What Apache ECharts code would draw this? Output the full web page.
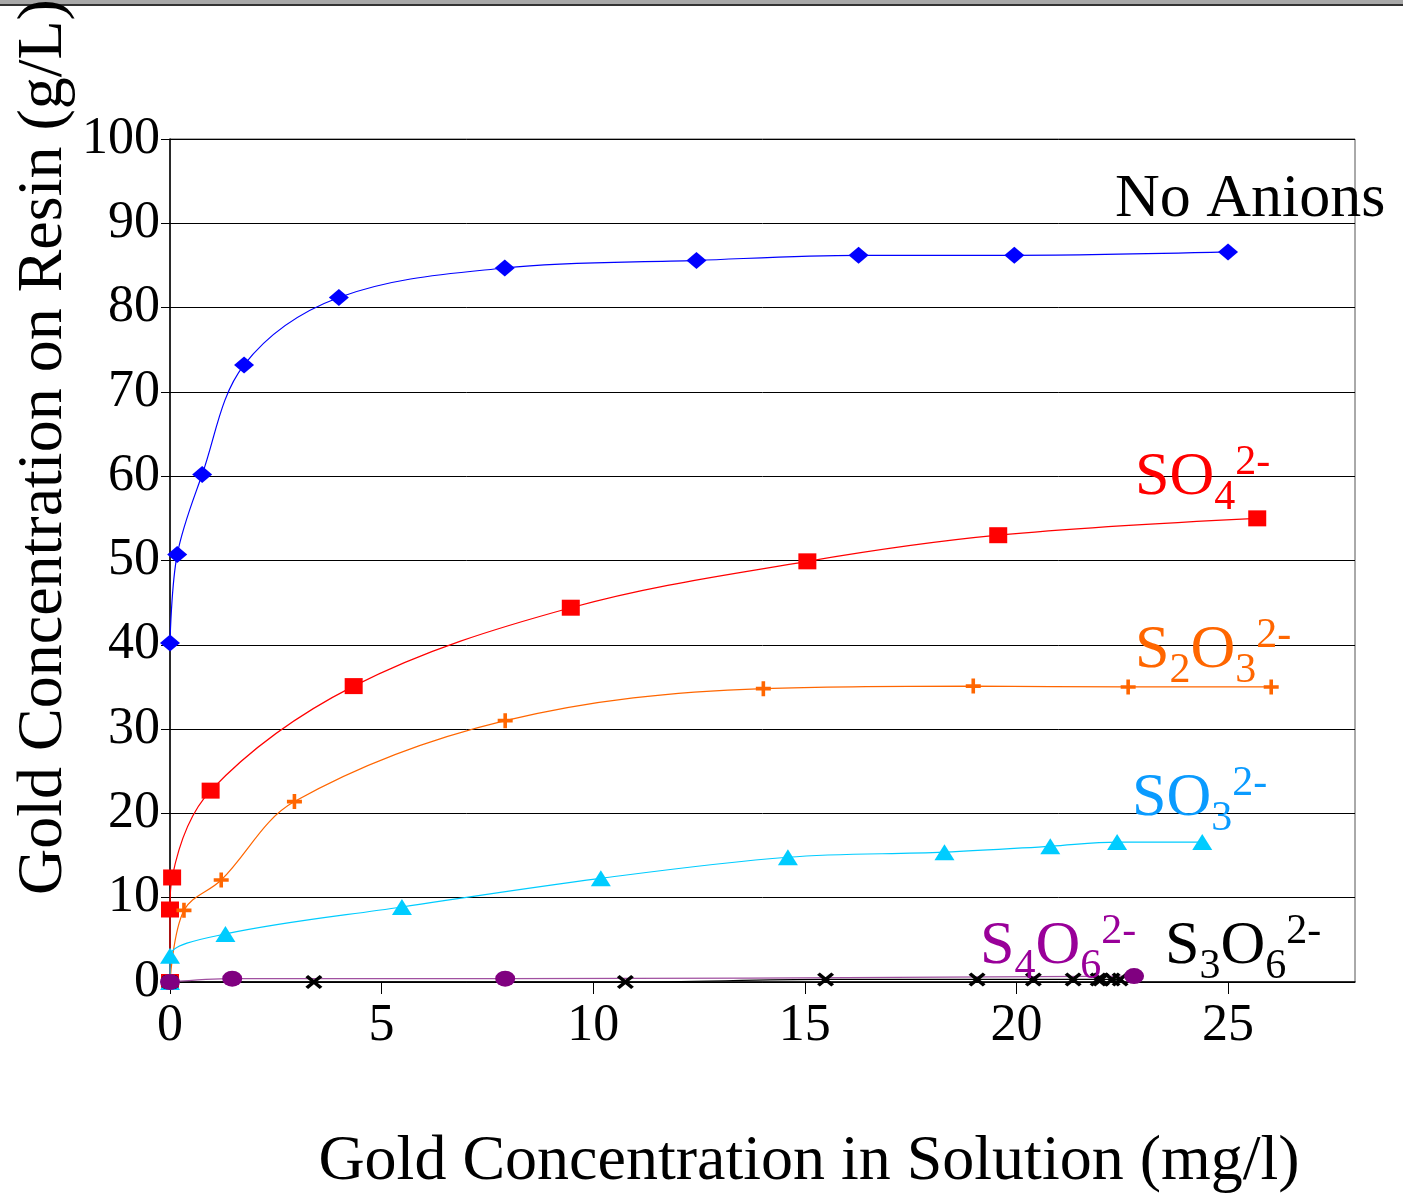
<!DOCTYPE html>
<html>
<head>
<meta charset="utf-8">
<script src="https://cdn.jsdelivr.net/npm/echarts@6/dist/echarts.min.js"></script>
<style>
html,body{margin:0;padding:0;background:#fff;}
#chart{width:1403px;height:1195px;}
</style>
</head>
<body>
<div id="chart"></div>
<script>
// ---- data ----
const xTicks = [0, 5, 10, 15, 20, 25];
const yTicks = [0, 10, 20, 30, 40, 50, 60, 70, 80, 90, 100];

const noAnionsX = [0, 0.17, 0.76, 1.75, 3.99, 7.91, 12.44, 16.27, 19.95, 25.0];
const noAnionsY = [40.2, 50.7, 60.2, 73.2, 81.2, 84.7, 85.6, 86.2, 86.2, 86.6];

const so4X = [0, 0, 0.05, 0.96, 4.34, 9.47, 15.06, 19.57, 25.69];
const so4Y = [0, 8.6, 12.4, 22.7, 35.1, 44.4, 49.9, 53.0, 55.0];

const s2o3X = [0, 0.33, 1.21, 2.94, 7.92, 14.02, 18.98, 22.64, 26.02];
const s2o3Y = [0, 8.5, 12.1, 21.4, 31.0, 34.8, 35.1, 35.0, 35.0];

const so3X = [0, 0, 1.31, 5.48, 10.18, 14.6, 18.3, 20.8, 22.38, 24.39];
const so3Y = [0, 3.1, 5.7, 8.9, 12.3, 14.8, 15.4, 16.1, 16.6, 16.6];

const s3o6X = [0, 3.4, 10.76, 15.49, 19.07, 20.4, 21.34, 21.93, 22.0, 22.26, 22.45];
const s3o6Y = [0, 0, 0, 0.3, 0.3, 0.3, 0.3, 0.3, 0.3, 0.3, 0.3];

const s4o6X = [0, 1.47, 7.92, 22.78];
const s4o6Y = [0, 0.4, 0.4, 0.7];

const xTitle = 'Gold Concentration in Solution (mg/l)';
const yTitle = 'Gold Concentration on Resin (g/L)';

// series labels: [pieces], piece kind n = normal, b = subscript, p = superscript
const labelNoAnions = [['No Anions', 'n']];
const labelSO4 = [['SO', 'n'], ['4', 'b'], ['2-', 'p']];
const labelS2O3 = [['S', 'n'], ['2', 'b'], ['O', 'n'], ['3', 'b'], ['2-', 'p']];
const labelSO3 = [['SO', 'n'], ['3', 'b'], ['2-', 'p']];
const labelS4O6 = [['S', 'n'], ['4', 'b'], ['O', 'n'], ['6', 'b'], ['2-', 'p']];
const labelS3O6 = [['S', 'n'], ['3', 'b'], ['O', 'n'], ['6', 'b'], ['2-', 'p']];

// ---- build ----
const FONT = '"Liberation Serif", "Times New Roman", serif';
const pairs = (xs, ys) => xs.map((x, i) => [x, ys[i]]);

const PLUS = 'path://M3.8,0H6.2V3.8H10V6.2H6.2V10H3.8V6.2H0V3.8H3.8Z';
const CROSS = 'path://M0,1.6L1.6,0L5,3.4L8.4,0L10,1.6L6.6,5L10,8.4L8.4,10L5,6.6L1.6,10L0,8.4L3.4,5Z';

function lineSeries(name, data, color, symbol, size, lineColor) {
  return {
    name, type: 'line', data, smooth: 0.35, showAllSymbol: true,
    symbol, symbolSize: size,
    lineStyle: { color: lineColor || color, width: 1.2 },
    itemStyle: { color: color },
    emphasis: { disabled: true },
    z: 3
  };
}

const mctx = document.createElement('canvas').getContext('2d');
function measure(text, size) {
  mctx.font = size + 'px ' + FONT;
  return mctx.measureText(text).width;
}
const MAIN = 62, SMALL = 42, MID = 0.255;
function labelGraphics(parts, x0, base, color) {
  const out = [];
  let x = x0;
  parts.forEach(([t, k]) => {
    const size = k === 'n' ? MAIN : SMALL;
    const b = k === 'n' ? base : (k === 'b' ? base + 15 : base - 20);
    out.push({
      type: 'text', silent: true, z: 10,
      style: {
        text: t, x: x, y: b - MID * size, fill: color,
        font: size + 'px ' + FONT, textAlign: 'left', textVerticalAlign: 'middle'
      }
    });
    x += measure(t, size);
  });
  return out;
}

const graphics = [
  { type: 'rect', shape: { x: 0, y: 0, width: 1403, height: 4 }, style: { fill: '#a8a8a8' }, silent: true },
  { type: 'rect', shape: { x: 0, y: 4, width: 1403, height: 2 }, style: { fill: '#333' }, silent: true },
  {
    type: 'text', silent: true, x: 44, y: 447, rotation: Math.PI / 2,
    style: { text: yTitle, x: 0, y: 0, fill: '#000', font: '64px ' + FONT, textAlign: 'center', textVerticalAlign: 'middle' }
  },
  {
    type: 'text', silent: true,
    style: { text: xTitle, x: 809, y: 1162, fill: '#000', font: '64px ' + FONT, textAlign: 'center', textVerticalAlign: 'middle' }
  }
].concat(
  labelGraphics(labelNoAnions, 1115, 216, '#000'),
  labelGraphics(labelSO4, 1135, 494, '#FF0000'),
  labelGraphics(labelS2O3, 1135, 667, '#FF6600'),
  labelGraphics(labelSO3, 1132, 815, '#0A9BFF'),
  labelGraphics(labelS4O6, 980, 963, '#990099'),
  labelGraphics(labelS3O6, 1165, 963, '#000')
);

const chart = echarts.init(document.getElementById('chart'), null, { renderer: 'canvas' });
chart.setOption({
  animation: false,
  backgroundColor: '#fff',
  grid: { left: 170, right: 48, top: 139, bottom: 213, show: true, borderColor: '#555', borderWidth: 1 },
  xAxis: {
    type: 'value', min: 0, max: 28, interval: 5,
    axisLine: { show: true, onZero: false, lineStyle: { color: '#000', width: 1.5 } },
    axisTick: { show: true, length: 12, lineStyle: { color: '#000' } },
    splitLine: { show: false },
    axisLabel: {
      margin: 18, color: '#000', fontFamily: FONT, fontSize: 52, showMaxLabel: false,
      formatter: v => (xTicks.indexOf(v) >= 0 ? String(v) : '')
    }
  },
  yAxis: {
    type: 'value', min: 0, max: 100, interval: 10,
    axisLine: { show: true, onZero: false, lineStyle: { color: '#000', width: 1.5 } },
    axisTick: { show: true, length: 9, lineStyle: { color: '#000' } },
    splitLine: { show: true, lineStyle: { color: '#000', width: 1 } },
    axisLabel: {
      margin: 10, color: '#000', fontFamily: FONT, fontSize: 52,
      formatter: v => (yTicks.indexOf(v) >= 0 ? String(v) : '')
    }
  },
  series: [
    lineSeries('No Anions', pairs(noAnionsX, noAnionsY), '#0000FF', 'diamond', [20, 17]),
    lineSeries('SO4', pairs(so4X, so4Y), '#FF0000', 'rect', [18, 16]),
    lineSeries('S2O3', pairs(s2o3X, s2o3Y), '#FF6600', PLUS, [15, 15]),
    lineSeries('SO3', pairs(so3X, so3Y), '#00CCFF', 'triangle', [20, 16]),
    lineSeries('S3O6', pairs(s3o6X, s3o6Y), '#000000', CROSS, [17, 14]),
    lineSeries('S4O6', pairs(s4o6X, s4o6Y), '#800080', 'circle', [20, 16], '#A050A0')
  ],
  graphic: graphics
});
</script>
</body>
</html>
